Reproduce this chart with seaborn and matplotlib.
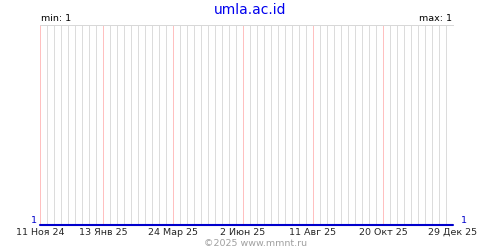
import matplotlib
matplotlib.use("Agg")
import matplotlib.pyplot as plt
import seaborn as sns
import pandas as pd

# data
dates = ["2024-11-11", "2025-12-29"]
values = [1, 1]
tick_dates = ["2024-11-11", "2025-01-13", "2025-03-24", "2025-06-02",
              "2025-08-11", "2025-10-20", "2025-12-29"]
tick_labels = ["11 Ноя 24", "13 Янв 25", "24 Мар 25", "2 Июн 25",
               "11 Авг 25", "20 Окт 25", "29 Дек 25"]
title = "umla.ac.id"
min_text = "min: 1"
max_text = "max: 1"
left_label = "1"
right_label = "1"
footer = "©2025 www.mmnt.ru"

sns.set_style("white")
plt.rcParams["font.family"] = ["DejaVu Sans"]

df = pd.DataFrame({"date": pd.to_datetime(dates), "value": values})

fig = plt.figure(figsize=(5, 2.5), dpi=100)
ax = fig.add_axes([0.08, 0.1, 0.826, 0.8])

start = pd.Timestamp(dates[0])
end = pd.Timestamp(dates[-1])

# weekly grid lines
weeks = pd.date_range(start, end, freq="7D")
tds = pd.to_datetime(tick_dates)
tick_set = set(tds)
for w in weeks:
    if w in tick_set:
        ax.axvline(w, color="#ffc0c0", lw=0.72, zorder=1, snap=True)
    else:
        ax.axvline(w, color="#dcdcdc", lw=0.72, zorder=0, snap=True)

sns.lineplot(data=df, x="date", y="value", ax=ax, color="#0000cc", lw=1.5,
             zorder=3, clip_on=False)

ax.set_xlim(start, end)
ax.set_ylim(1, 2)
ax.set_xticks(tds)
ax.set_xticklabels(tick_labels, fontsize=6.8)
ax.tick_params(axis="x", length=0, pad=2)
ax.set_yticks([])
ax.set_xlabel("")
ax.set_ylabel("")
for s in ["left", "right", "bottom"]:
    ax.spines[s].set_visible(False)
ax.spines["top"].set_color("#d8d8d8")
ax.spines["top"].set_linewidth(0.72)

ax.text(-0.008, 0.0, left_label, transform=ax.transAxes, ha="right", va="bottom",
        color="#0000cc", fontsize=6.8)
ax.text(1.02, 0.0, right_label, transform=ax.transAxes, ha="left", va="bottom",
        color="#0000cc", fontsize=6.8)
ax.text(0.002, 1.012, min_text, transform=ax.transAxes, ha="left", va="bottom",
        color="black", fontsize=6.8)
ax.text(0.998, 1.012, max_text, transform=ax.transAxes, ha="right", va="bottom",
        color="black", fontsize=6.8)

fig.text(0.5, 0.962, title, ha="center", va="center", color="#0000ee", fontsize=10)
fig.text(0.512, 0.028, footer, ha="center", va="center", color="#a0a0a0", fontsize=6.8)

fig.savefig("out.png", dpi=100, facecolor="white")
